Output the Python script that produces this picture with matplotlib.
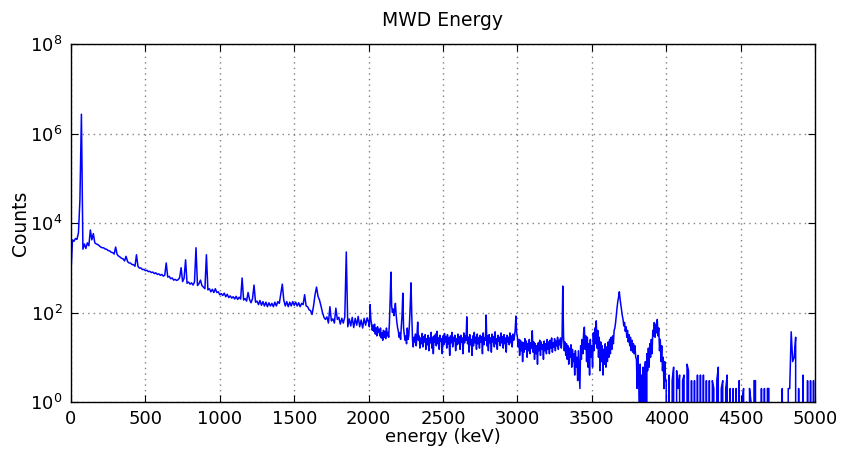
import numpy as np
import matplotlib
matplotlib.use("Agg")
import matplotlib.pyplot as plt
from matplotlib.ticker import FixedLocator, LogFormatterSciNotation, NullLocator

# Spectrum.
# 0-2000 keV and 4000-5000 keV: 10 keV bins; 2000-4000 keV: 5 keV bins.
coarse_bin_kev = 10
fine_bin_kev = 5

counts_0_1000 = [
    800, 4200, 3900, 4500, 4300, 6000, 33000, 2700000, 2600, 3400,
    2700, 3600, 3100, 7000, 4200, 5800, 3600, 3400, 3300, 3100,
    2900, 2800, 2780, 2620, 2580, 2420, 2380, 2220, 2180, 2020,
    2900, 1980, 1820, 1730, 1620, 1580, 1420, 1800, 1380, 1280,
    1270, 1180, 1170, 1080, 1950, 1070, 980, 990, 910, 920,
    860, 880, 820, 830, 780, 800, 740, 770, 710, 730,
    680, 710, 650, 680, 1280, 620, 640, 570, 590, 530,
    550, 520, 540, 600, 1000, 490, 580, 1500, 450, 480,
    430, 460, 410, 480, 2800, 400, 440, 530, 400, 370,
    340, 1950, 320, 340, 290, 330, 280, 340, 280, 290,
]
counts_1000_2000 = [
    250, 265, 240, 270, 225, 255, 215, 235, 210, 225,
    200, 230, 195, 220, 200, 590, 190, 205, 180, 280,
    195, 165, 205, 410, 170, 180, 150, 185, 145, 175,
    140, 170, 135, 165, 140, 160, 135, 170, 140, 175,
    160, 260, 430, 190, 140, 175, 135, 170, 140, 175,
    145, 170, 140, 165, 135, 160, 150, 250, 140, 135,
    115, 110, 90, 140, 250, 370, 230, 190, 140, 100,
    78, 70, 80, 58, 135, 65, 72, 58, 125, 70,
    78, 55, 74, 58, 80, 2250, 48, 72, 50, 78,
    46, 74, 52, 82, 48, 68, 45, 74, 52, 76,
]
counts_2000_3000 = [
    60, 48, 150, 70, 55, 40, 52, 38, 55, 33, 45, 30, 48, 36, 42, 30, 45, 27, 35, 24,
    40, 28, 38, 26, 45, 30, 36, 28, 60, 200, 800, 140, 100, 120, 85, 110, 160, 90, 60, 45,
    38, 28, 35, 25, 50, 90, 270, 45, 32, 24, 30, 20, 45, 25, 30, 60, 150, 460, 90, 25,
    17, 28, 22, 33, 18, 30, 61, 24, 30, 16, 27, 20, 34, 17, 29, 22, 32, 15, 26, 19,
    31, 14, 27, 21, 36, 16, 28, 12, 30, 22, 33, 18, 38, 20, 27, 15, 31, 23, 26, 12,
    30, 19, 34, 22, 29, 16, 32, 20, 27, 11, 30, 21, 36, 17, 28, 23, 31, 14, 26, 19,
    33, 20, 29, 15, 31, 22, 27, 12, 35, 21, 30, 24, 80, 20, 28, 13, 32, 19, 25, 11,
    30, 18, 36, 21, 28, 15, 33, 20, 27, 16, 31, 22, 29, 12, 35, 19, 27, 24, 88, 18,
    30, 14, 32, 21, 27, 13, 33, 22, 29, 17, 37, 20, 26, 15, 31, 23, 28, 18, 35, 21,
    29, 16, 32, 20, 27, 13, 31, 22, 28, 19, 35, 21, 30, 17, 33, 24, 29, 40, 83, 35,
]
counts_3000_4000 = [
    28, 17, 25, 11, 24, 14, 22, 8, 21, 13, 26, 15, 23, 10, 20, 14, 25, 12, 21, 16,
    39, 13, 22, 9, 20, 12, 18, 7, 21, 14, 24, 11, 22, 15, 19, 9, 23, 14, 20, 12,
    25, 15, 22, 12, 24, 16, 27, 13, 21, 17, 26, 14, 23, 18, 28, 15, 24, 19, 27, 16,
    25, 390, 30, 14, 22, 11, 20, 9, 18, 7, 16, 10, 19, 6, 15, 8, 12, 4, 14, 6,
    10, 3, 14, 5, 2, 18, 9, 25, 12, 35, 47, 15, 30, 8, 28, 6, 20, 4, 25, 10,
    18, 6, 35, 14, 45, 20, 65, 16, 40, 10, 28, 5, 22, 8, 18, 4, 15, 7, 20, 6,
    17, 8, 22, 10, 25, 12, 28, 15, 30, 20, 40, 45, 60, 90, 130, 180, 220, 290, 200, 150,
    110, 85, 70, 50, 60, 38, 48, 28, 40, 22, 32, 18, 28, 14, 24, 13, 20, 12, 18, 10,
    9, 2, 11, 3, 1, 7, 0, 4, 0, 6, 0, 3, 8, 0, 12, 5, 16, 6, 20, 10,
    25, 12, 40, 30, 60, 28, 55, 35, 70, 30, 45, 14, 25, 8, 18, 5, 10, 2, 8, 3,
]
counts_4000_5000 = [
    3, 0, 4, 0, 3, 6, 0, 5, 2, 4,
    0, 3, 4, 0, 7, 5, 0, 3, 0, 3,
    0, 4, 0, 4, 0, 4, 0, 3, 0, 3,
    0, 3, 2, 0, 3, 6, 0, 2, 3, 0,
    2, 4, 0, 2, 0, 2, 0, 2, 0, 3,
    0, 1, 2, 0, 1, 0, 2, 1, 0, 3,
    3, 0, 0, 0, 2, 0, 2, 0, 2, 2,
    0, 0, 0, 0, 0, 0, 0, 0, 2, 0,
    0, 0, 2, 2, 37, 8, 10, 28, 0, 2,
    0, 0, 4, 0, 0, 3, 0, 3, 0, 3,
    0,
]

x_ticks = [0, 500, 1000, 1500, 2000, 2500, 3000, 3500, 4000, 4500, 5000]
y_ticks = [1e0, 1e2, 1e4, 1e6, 1e8]

coarse_low = counts_0_1000 + counts_1000_2000
fine_mid = counts_2000_3000 + counts_3000_4000
energy = np.concatenate([
    np.arange(len(coarse_low)) * coarse_bin_kev,
    2000 + np.arange(len(fine_mid)) * fine_bin_kev,
    4000 + np.arange(len(counts_4000_5000)) * coarse_bin_kev,
])
counts = np.array(coarse_low + fine_mid + counts_4000_5000, dtype=float)

plt.rcParams.update({
    "font.family": ["DejaVu Sans"],
    "font.size": 12,
    "xtick.direction": "in",
    "ytick.direction": "in",
    "xtick.top": True,
    "ytick.right": True,
    "xtick.major.size": 5,
    "ytick.major.size": 5,
    "xtick.major.pad": 6,
    "ytick.major.pad": 6,
})

fig = plt.figure(figsize=(8.41, 4.51), dpi=100)
ax = fig.add_axes([71 / 841, 1 - 402 / 451, (815 - 71) / 841, (402 - 44) / 451])
ax.plot(energy, counts, color=(0, 0, 1), linewidth=1.1)
ax.set_yscale("log", nonpositive="clip")
ax.set_xlim(0, 5000)
ax.set_ylim(1, 1e8)
ax.xaxis.set_major_locator(FixedLocator(x_ticks))
ax.yaxis.set_major_locator(FixedLocator(y_ticks))
ax.yaxis.set_major_formatter(LogFormatterSciNotation())
ax.yaxis.set_minor_locator(NullLocator())
ax.grid(True, which="major", color="0.5", linestyle=(0, (1, 3)), linewidth=1.0)
for s in ax.spines.values():
    s.set_linewidth(1.0)
ax.tick_params(labelsize=13)
ax.set_title("MWD Energy", fontsize=13.5, pad=13)
ax.set_xlabel("energy (keV)", fontsize=13, labelpad=0)
ax.set_ylabel("Counts", fontsize=13.5, labelpad=0)

fig.savefig("out.png", dpi=100, facecolor="white")
